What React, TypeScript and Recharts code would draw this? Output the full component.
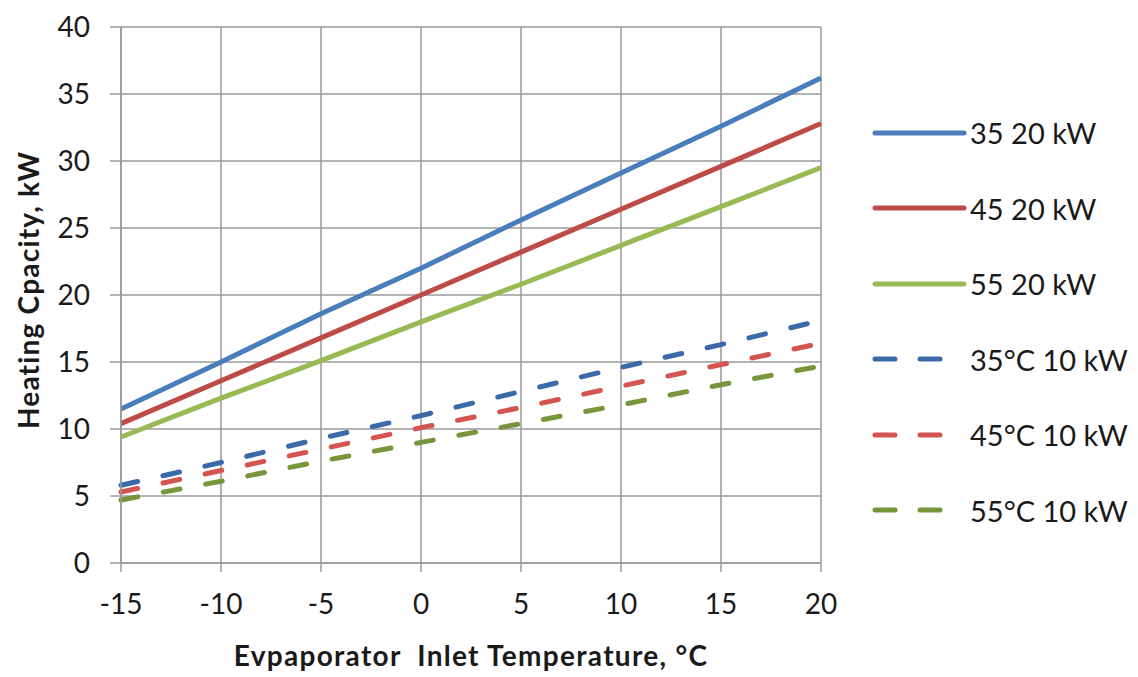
import React from 'react';
import { LineChart, Line, XAxis, YAxis, CartesianGrid, Legend, Label } from 'recharts';

const FONT = 'Lato, "Open Sans", sans-serif';
const GRID = '#9a9a9a';
const TEXT = '#1a1a1a';

const temps = [-15, -10, -5, 0, 5, 10, 15, 20];
const yTicks = [0, 5, 10, 15, 20, 25, 30, 35, 40];

const cap35_20 = [11.5, 15.0, 18.6, 22.0, 25.6, 29.1, 32.6, 36.2];
const cap45_20 = [10.4, 13.6, 16.8, 20.0, 23.2, 26.4, 29.6, 32.8];
const cap55_20 = [9.4, 12.3, 15.1, 18.0, 20.8, 23.7, 26.6, 29.5];
const cap35_10 = [5.8, 7.5, 9.3, 11.0, 12.8, 14.6, 16.3, 18.1];
const cap45_10 = [5.3, 6.9, 8.5, 10.1, 11.6, 13.2, 14.8, 16.4];
const cap55_10 = [4.7, 6.1, 7.6, 9.0, 10.4, 11.8, 13.3, 14.7];

const series = [
  { key: 's35_20', name: '35 20 kW', values: cap35_20, color: '#4A7EBB', dashed: false },
  { key: 's45_20', name: '45 20 kW', values: cap45_20, color: '#BE4B48', dashed: false },
  { key: 's55_20', name: '55 20 kW', values: cap55_20, color: '#98B954', dashed: false },
  { key: 's35_10', name: '35°C 10 kW', values: cap35_10, color: '#3B6AA8', dashed: true },
  { key: 's45_10', name: '45°C 10 kW', values: cap45_10, color: '#D35450', dashed: true },
  { key: 's55_10', name: '55°C 10 kW', values: cap55_10, color: '#77953B', dashed: true },
];

const data = temps.map((t, i) => {
  const row: Record<string, number> = { t };
  series.forEach((s) => {
    row[s.key] = s.values[i];
  });
  return row;
});

// legend is 266px wide, reserved on the right by recharts
const LEGEND_W = 266;

function ChartLegend() {
  return (
    <div style={{ fontFamily: FONT, fontSize: 29, color: TEXT }}>
      {series.map((s) => (
        <div key={s.key} style={{ display: 'flex', alignItems: 'center', height: 75.5 }}>
          <svg width={98} height={12} style={{ display: 'block' }}>
            <line
              x1={3}
              y1={6}
              x2={s.dashed ? 73 : 92}
              y2={6}
              stroke={s.color}
              strokeWidth={5}
              strokeLinecap="round"
              strokeDasharray={s.dashed ? '20 25' : undefined}
            />
          </svg>
          <span style={{ whiteSpace: 'nowrap' }}>{s.name}</span>
        </div>
      ))}
    </div>
  );
}

export default function App() {
  return (
    <div style={{ position: 'absolute', left: 0, top: 0, width: 1138, height: 677, background: '#fff' }}>
      <LineChart
        width={1138}
        height={677}
        data={data}
        margin={{ top: 27, right: 317 - LEGEND_W, left: 0, bottom: 50 }}
      >
        <CartesianGrid stroke={GRID} strokeWidth={1.5} />
        <XAxis
          dataKey="t"
          type="number"
          domain={[-15, 20]}
          ticks={temps}
          height={64}
          stroke={GRID}
          strokeWidth={1.5}
          tickSize={9}
          tickMargin={22}
          tick={{ fill: TEXT, fontSize: 28, fontFamily: FONT }}
        >
          <Label
            content={({ viewBox }: any) => (
              <text
                x={viewBox.x + viewBox.width / 2}
                y={655}
                textAnchor="middle"
                dominantBaseline="central"
                fill={TEXT}
                fontFamily={FONT}
                fontSize={28}
                fontWeight={700}
                letterSpacing={1.3}
              >
                {'Evpaporator\u00A0 Inlet Temperature, °C'}
              </text>
            )}
          />
        </XAxis>
        <YAxis
          type="number"
          domain={[0, 40]}
          ticks={yTicks}
          width={121}
          stroke={GRID}
          strokeWidth={1.5}
          tickSize={11}
          tickMargin={20}
          tick={{ fill: TEXT, fontSize: 28, fontFamily: FONT }}
        >
          <Label
            content={({ viewBox }: any) => {
              const cy = viewBox.y + viewBox.height / 2 - 5;
              return (
                <text
                  x={28}
                  y={cy}
                  transform={`rotate(-90, 28, ${cy})`}
                  textAnchor="middle"
                  dominantBaseline="central"
                  fill={TEXT}
                  fontFamily={FONT}
                  fontSize={28}
                  fontWeight={700}
                  letterSpacing={1.2}
                >
                  Heating Cpacity, kW
                </text>
              );
            }}
          />
        </YAxis>
        <Legend
          layout="vertical"
          align="right"
          verticalAlign="top"
          content={<ChartLegend />}
          wrapperStyle={{ left: 872, top: 95, width: LEGEND_W }}
        />
        {series.map((s) => (
          <Line
            key={s.key}
            type="linear"
            dataKey={s.key}
            name={s.name}
            stroke={s.color}
            strokeWidth={5}
            strokeLinecap={s.dashed ? 'round' : 'butt'}
            strokeDasharray={s.dashed ? '17 26' : undefined}
            dot={false}
            activeDot={false}
            isAnimationActive={false}
          />
        ))}
      </LineChart>
    </div>
  );
}
